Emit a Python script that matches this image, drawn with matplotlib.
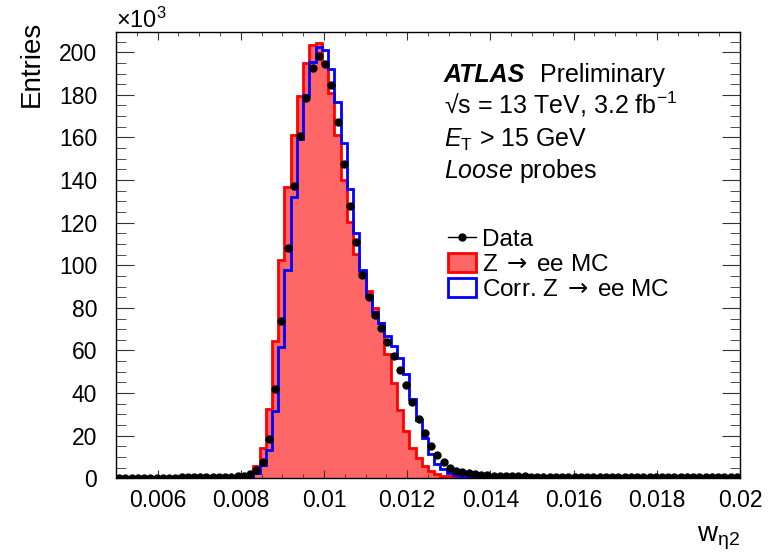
import matplotlib
matplotlib.use("Agg")
import matplotlib.pyplot as plt
import numpy as np
from matplotlib.lines import Line2D
from matplotlib.patches import Patch
from matplotlib.ticker import MultipleLocator, FixedLocator

plt.rcParams['font.family'] = ['Liberation Sans', 'DejaVu Sans']
plt.rcParams['mathtext.fontset'] = 'custom'
plt.rcParams['mathtext.rm'] = 'Liberation Sans'
plt.rcParams['mathtext.it'] = 'Liberation Sans:italic'
plt.rcParams['mathtext.bf'] = 'Liberation Sans:bold'
plt.rcParams['mathtext.sf'] = 'DejaVu Sans'

# ---- data (units of 10^3 entries), 100 bins from 0.005 to 0.02 ----
x_min, x_max, n_bins = 0.005, 0.02, 100
edges = np.linspace(x_min, x_max, n_bins + 1)

data_vals = [0.3, 0.3, 0.3, 0.3, 0.3, 0.3, 0.3, 0.3, 0.3, 0.3,
             0.4, 0.4, 0.4, 0.4, 0.4, 0.4, 0.5, 0.5, 0.7, 0.9,
             1.2, 1.8, 3.9, 7.6, 18.5, 41.8, 73.7, 108.2, 137.4, 160.9,
             178.4, 192.7, 198.4, 194.5, 184.5, 167.3, 147.5, 128.0, 110.8, 95.4,
             85.3, 76.7, 70.4, 63.9, 57.6, 50.8, 43.8, 35.8, 27.9, 21.2,
             15.3, 10.9, 7.5, 5.0, 3.6, 2.8, 2.3, 2.0, 1.7, 1.5,
             1.3, 1.2, 1.1, 1.0, 0.9, 0.85, 0.8, 0.8, 0.75, 0.7,
             0.7, 0.65, 0.6, 0.6, 0.6, 0.6, 0.55, 0.55, 0.55, 0.5,
             0.5, 0.5, 0.5, 0.5, 0.5, 0.45, 0.45, 0.45, 0.45, 0.45,
             0.4, 0.4, 0.4, 0.4, 0.4, 0.4, 0.4, 0.4, 0.4, 0.4]

mc_vals = [0.2, 0.2, 0.2, 0.2, 0.2, 0.2, 0.2, 0.2, 0.2, 0.2,
           0.2, 0.2, 0.2, 0.2, 0.2, 0.3, 0.3, 0.3, 0.4, 0.5,
           0.8, 1.5, 5.8, 14.4, 32.5, 64.6, 102.5, 136.7, 161.0, 179.5,
           194.8, 203.4, 204.2, 195.0, 181.0, 161.0, 140.0, 120.3, 105.2, 97.0,
           88.0, 80.0, 73.0, 58.3, 44.6, 32.0, 22.0, 14.1, 9.6, 6.0,
           3.5, 2.0, 1.3, 0.9, 0.6, 0.4, 0.3, 0.3, 0.2, 0.2,
           0.2, 0.2, 0.2, 0.15, 0.15, 0.15, 0.15, 0.1, 0.1, 0.1,
           0.1, 0.1, 0.1, 0.1, 0.1, 0.1, 0.1, 0.1, 0.1, 0.1,
           0.1, 0.1, 0.1, 0.1, 0.1, 0.1, 0.1, 0.1, 0.1, 0.1,
           0.1, 0.1, 0.1, 0.1, 0.1, 0.1, 0.1, 0.1, 0.1, 0.1]

corr_vals = [0.3, 0.3, 0.3, 0.3, 0.3, 0.3, 0.3, 0.3, 0.3, 0.3,
             0.3, 0.3, 0.3, 0.3, 0.3, 0.3, 0.3, 0.3, 0.3, 0.4,
             0.5, 0.8, 2.3, 6.2, 13.3, 31.7, 61.8, 97.8, 131.9, 159.5,
             180.0, 195.6, 202.6, 201.0, 192.0, 176.8, 157.3, 135.9, 115.3, 97.7,
             85.5, 78.0, 73.0, 66.7, 62.3, 56.5, 48.8, 37.0, 27.5, 18.8,
             11.5, 6.9, 4.2, 2.4, 1.6, 1.1, 0.9, 0.7, 0.6, 0.6,
             0.5, 0.5, 0.5, 0.4, 0.4, 0.4, 0.4, 0.4, 0.3, 0.3,
             0.3, 0.3, 0.3, 0.3, 0.3, 0.3, 0.3, 0.3, 0.3, 0.3,
             0.3, 0.3, 0.3, 0.3, 0.3, 0.3, 0.3, 0.3, 0.3, 0.3,
             0.3, 0.3, 0.3, 0.3, 0.3, 0.3, 0.3, 0.3, 0.3, 0.3]

x_major_ticks = [0.006, 0.008, 0.010, 0.012, 0.014, 0.016, 0.018, 0.020]
x_tick_labels = ["0.006", "0.008", "0.01", "0.012", "0.014", "0.016", "0.018", "0.02"]

legend_labels = ["Data", r"Z$\;\mathsf{\rightarrow}\;$ee MC", r"Corr. Z$\;\mathsf{\rightarrow}\;$ee MC"]

# ---- figure ----
W, H = 776, 555
fig = plt.figure(figsize=(W / 100, H / 100), dpi=100)
L, R, T, B = 116, 740, 32, 478.3
ax = fig.add_axes([L / W, 1 - B / H, (R - L) / W, (B - T) / H])

centers = 0.5 * (edges[:-1] + edges[1:])
ax.stairs(mc_vals, edges, fill=True, color='#ff6666', lw=0, zorder=1)
ax.stairs(mc_vals, edges, color='#ff0000', lw=2, zorder=2)
ax.stairs(corr_vals, edges, color='#0000ff', lw=2, zorder=3)
ax.plot(centers, data_vals, 'o', color='black', ms=5, zorder=4)

ax.set_xlim(x_min, x_max)
ax.set_ylim(0, 209.5)

ax.xaxis.set_major_locator(FixedLocator(x_major_ticks))
ax.set_xticklabels(x_tick_labels)
ax.xaxis.set_minor_locator(MultipleLocator(0.0005))
ax.yaxis.set_major_locator(MultipleLocator(20))
ax.yaxis.set_minor_locator(MultipleLocator(5))

ax.tick_params(which='both', direction='in', top=True, right=True, labelsize=16.5,
               color='#333333')
ax.tick_params(axis='x', which='major', length=6, pad=8)
ax.tick_params(axis='x', which='minor', length=3)
ax.tick_params(axis='y', which='major', length=13, pad=13.5)
ax.tick_params(axis='y', which='minor', length=7)
for s in ax.spines.values():
    s.set_linewidth(1.0)

ax.set_xlabel(r"w$_{\mathrm{\eta 2}}$", fontsize=20, loc='right', labelpad=9)
ax.set_ylabel("Entries", fontsize=20, loc='top', labelpad=10)
ax.yaxis.label.set_y(1.025)

fig.text(L / W, 1 - 28 / H, r"$\times$10$^{3}$", fontsize=17, ha='left', va='baseline')

def ft(x, y, s, fs=18, **kw):
    fig.text(x / W, 1 - y / H, s, fontsize=fs, ha='left', va='baseline', **kw)

ft(444, 81.7, "ATLAS", fontweight='bold', fontstyle='italic')
ft(540, 81.7, "Preliminary")
ft(444, 113.3, "\u221As = 13 TeV, 3.2 fb$^{-1}$")
ft(444, 146.7, r"$E_{\mathrm{T}}$ > 15 GeV")
ft(444, 178.3, r"$\mathit{Loose}$ probes")

handles = [Line2D([], [], color='black', marker='o', ms=5, lw=1),
           Patch(facecolor='#ff6666', edgecolor='#ff0000', lw=2),
           Patch(facecolor='white', edgecolor='#0000ff', lw=2)]
leg = ax.legend(handles, legend_labels, loc='upper left',
                bbox_to_anchor=(448 / W, 1 - 228 / H), bbox_transform=fig.transFigure,
                frameon=False, fontsize=17.5, handlelength=1.15, handleheight=0.8,
                handletextpad=0.25, labelspacing=0.1, borderpad=0, borderaxespad=0)

fig.savefig("out.png", dpi=100)
